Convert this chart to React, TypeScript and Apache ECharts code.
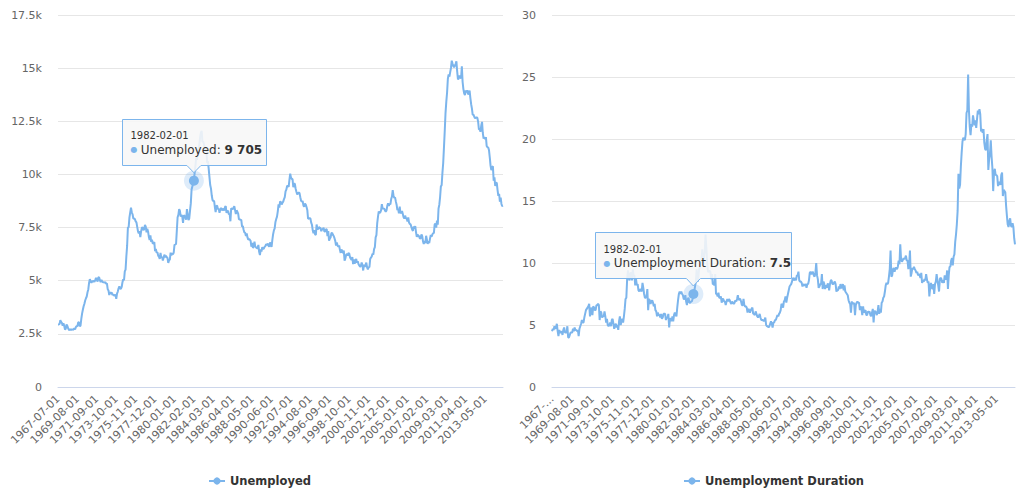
import React, { useEffect, useRef } from "react";
import * as echarts from "echarts";

const START_YEAR = 1967;
const START_MONTH = 7;
const MONTH_COUNT = 574;
const HIGHLIGHT_DATE = "1982-02-01";
const SERIES_NAMES = ["Unemployed", "Unemployment Duration"];
const UNEMPLOYED_TICKS = [0, 2500, 5000, 7500, 10000, 12500, 15000, 17500];
const DURATION_TICKS = [0, 5, 10, 15, 20, 25, 30];

const dates: string[] = [];
for (let i = 0; i < MONTH_COUNT; i++) {
  const m = START_MONTH - 1 + i;
  const y = START_YEAR + Math.floor(m / 12);
  const mm = (m % 12) + 1;
  dates.push(`${y}-${String(mm).padStart(2, "0")}-01`);
}

// thousands, monthly from 1967-07
const unemployed = [
  2944, 2945, 2958, 3143, 3066, 3018,
  2878, 3001, 2877, 2709, 2740, 2938, 2883, 2768, 2686, 2689, 2715, 2685,
  2718, 2692, 2712, 2758, 2713, 2816, 2868, 2856, 3040, 3049, 2856, 2884,
  3201, 3453, 3635, 3797, 3919, 4071, 4175, 4256, 4456, 4591, 4898, 5076,
  4986, 4903, 4987, 4959, 4996, 4949, 5035, 5134, 5042, 4954, 5161, 5154,
  5019, 4928, 5038, 4959, 4922, 4923, 4913, 4939, 4849, 4875, 4602, 4543,
  4326, 4452, 4394, 4459, 4329, 4363, 4305, 4305, 4350, 4144, 4396, 4489,
  4644, 4731, 4634, 4618, 4705, 4927, 5063, 5022, 5437, 5523, 6140, 6636,
  7501, 7520, 7978, 8210, 8433, 8220, 8127, 7928, 7923, 7897, 7794, 7744,
  7534, 7326, 7230, 7330, 7053, 7322, 7490, 7518, 7380, 7430, 7620, 7545,
  7280, 7443, 7307, 7059, 6911, 7134, 6829, 6925, 6751, 6763, 6815, 6386,
  6489, 6318, 6337, 6180, 6127, 6028, 6309, 6080, 6125, 5947, 6077, 6228,
  6109, 6173, 6109, 6069, 5840, 5959, 5996, 6320, 6190, 6296, 6238, 6325,
  6683, 6702, 6729, 7358, 7984, 8098, 8363, 8281, 8021, 8088, 8023, 7718,
  8071, 8051, 7982, 7869, 8366, 8131, 7848, 7927, 8299, 8637, 9290, 9437,
  9586, 9705, 10096, 10426, 10793, 10690, 11006, 11066, 11421, 11754, 11963, 12052,
  11534, 11545, 11408, 11268, 11154, 11246, 10548, 10623, 10282, 9887, 9499, 9331,
  9008, 8791, 8746, 8762, 8456, 8226, 8537, 8519, 8367, 8381, 8198, 8358,
  8423, 8321, 8339, 8395, 8302, 8460, 8513, 8196, 8248, 8298, 8128, 8138,
  7795, 8402, 8383, 8364, 8439, 8508, 8319, 8135, 8310, 8243, 8159, 7883,
  7892, 7865, 7862, 7542, 7574, 7398, 7268, 7261, 7102, 7227, 7035, 6936,
  6953, 6929, 6876, 6601, 6779, 6546, 6605, 6843, 6604, 6568, 6537, 6518,
  6682, 6359, 6205, 6468, 6375, 6577, 6495, 6511, 6590, 6630, 6725, 6667,
  6752, 6651, 6598, 6797, 6742, 6590, 6922, 7188, 7368, 7459, 7764, 7901,
  8015, 8265, 8586, 8439, 8736, 8692, 8586, 8666, 8722, 8842, 8931, 9198,
  9283, 9454, 9460, 9415, 9744, 10040, 9850, 9787, 9781, 9398, 9565, 9557,
  9325, 9183, 9056, 9110, 9149, 9121, 8930, 8763, 8714, 8750, 8542, 8477,
  8630, 8583, 8470, 8331, 7915, 7927, 7946, 7933, 7734, 7632, 7375, 7230,
  7375, 7187, 7153, 7645, 7430, 7427, 7527, 7484, 7478, 7328, 7426, 7423,
  7491, 7313, 7318, 7415, 7423, 7095, 7337, 6882, 6979, 7031, 7236, 7253,
  7158, 7102, 7000, 6873, 6655, 6799, 6655, 6608, 6656, 6454, 6308, 6476,
  6368, 6306, 6422, 5941, 6047, 6212, 6259, 6179, 6300, 6280, 6100, 6032,
  5976, 6111, 5783, 6004, 5796, 5951, 6025, 5838, 5915, 5778, 5716, 5653,
  5708, 5858, 5733, 5481, 5758, 5651, 5747, 5853, 5625, 5534, 5639, 5634,
  6023, 6089, 6141, 6271, 6226, 6484, 6583, 7042, 7142, 7694, 8003, 8258,
  8182, 8215, 8304, 8599, 8399, 8393, 8390, 8304, 8251, 8307, 8520, 8640,
  8520, 8618, 8588, 8842, 8957, 9266, 9011, 8896, 8921, 8732, 8576, 8317,
  8370, 8167, 8491, 8170, 8212, 8286, 8136, 7990, 7927, 8061, 7932, 7934,
  7784, 7980, 7737, 7672, 7651, 7524, 7406, 7345, 7553, 7453, 7566, 7279,
  7064, 7184, 7072, 7120, 6980, 7001, 7175, 7091, 6847, 6727, 6872, 6762,
  7116, 6927, 6731, 6850, 6766, 6979, 7149, 7067, 7170, 7237, 7240, 7645,
  7685, 7497, 7822, 7637, 8395, 8575, 8937, 9438, 9494, 10074, 10538, 11286,
  12058, 12898, 13426, 13853, 14499, 14707, 14601, 14814, 15009, 15352, 15219, 15098,
  15046, 15113, 15202, 15325, 14849, 14474, 14512, 14648, 14579, 14516, 15081, 14348,
  14013, 13820, 13737, 13957, 13855, 13962, 13763, 13818, 13948, 13594, 13302, 13093,
  12797, 12813, 12713, 12646, 12660, 12692, 12656, 12471, 12115, 12124, 12005, 12298,
  12471, 11950, 11689, 11760, 11654, 11751, 11335, 11279, 11270, 11136, 10787, 10404,
  10202, 10349, 10380, 9702, 9859, 9460, 9608, 9599, 9262, 8990, 9090, 8717,
  8903, 8610, 8504, 8526,
];

// median duration, weeks, monthly from 1967-07
const duration = [
  4.5, 4.7, 4.6, 4.9, 4.7, 4.8,
  5.1, 4.5, 4.1, 4.6, 4.4, 4.4, 4.5, 4.2, 4.6, 4.8, 4.4, 4.4,
  4.4, 4.9, 4.0, 4.0, 4.2, 4.4, 4.4, 4.4, 4.7, 4.5, 4.8, 4.6,
  4.6, 4.5, 4.6, 4.1, 4.7, 4.9, 5.1, 5.4, 5.2, 5.2, 5.6, 5.9,
  6.2, 6.3, 6.4, 6.5, 6.7, 5.7, 6.2, 6.4, 5.8, 6.5, 6.4, 6.2,
  6.2, 6.6, 6.6, 6.7, 6.6, 5.4, 6.1, 6.0, 5.6, 5.7, 5.7, 6.1,
  5.7, 5.2, 5.5, 5.0, 4.9, 5.0, 5.2, 4.9, 5.4, 5.5, 5.1, 4.7,
  5.0, 5.1, 4.8, 5.0, 4.6, 5.3, 5.7, 5.0, 5.3, 5.5, 5.2, 5.7,
  6.3, 7.1, 7.2, 8.7, 9.4, 8.8, 8.6, 9.2, 9.2, 8.6, 9.5, 9.0,
  9.0, 8.2, 8.7, 8.2, 8.3, 7.8, 7.7, 7.9, 7.8, 7.7, 8.4, 8.0,
  7.5, 7.2, 7.2, 7.3, 7.9, 6.2, 7.1, 7.0, 6.7, 6.9, 7.0, 6.8,
  6.5, 6.7, 6.2, 6.1, 5.7, 6.0, 5.8, 5.8, 5.6, 5.9, 5.5, 5.6,
  5.9, 5.9, 5.9, 5.4, 5.6, 5.6, 5.9, 4.8, 5.5, 5.5, 5.3, 5.7,
  5.3, 5.8, 6.0, 5.8, 5.7, 6.4, 7.0, 7.5, 7.7, 7.5, 7.7, 7.5,
  7.4, 7.1, 7.1, 7.4, 6.9, 6.6, 7.1, 7.2, 6.8, 6.8, 6.9, 6.9,
  7.1, 7.5, 7.7, 8.1, 8.5, 9.5, 8.5, 8.7, 9.5, 9.7, 10.0, 10.2,
  11.1, 9.8, 10.4, 10.9, 12.3, 11.3, 10.1, 9.3, 9.3, 9.4, 9.3, 8.7,
  9.1, 8.3, 8.3, 8.2, 9.1, 7.5, 7.5, 7.3, 7.6, 7.2, 7.2, 7.3,
  6.8, 7.1, 7.1, 6.9, 6.9, 6.6, 6.9, 7.1, 6.9, 7.1, 7.0, 6.8,
  6.7, 6.9, 6.8, 6.7, 6.8, 7.0, 6.9, 7.1, 7.4, 7.0, 7.1, 7.1,
  6.9, 6.6, 6.6, 7.1, 6.6, 6.5, 6.5, 6.4, 6.0, 6.3, 6.2, 6.0,
  6.2, 6.3, 6.4, 5.9, 5.9, 5.8, 6.1, 5.9, 5.7, 5.6, 5.7, 5.9,
  5.6, 5.4, 5.4, 5.4, 5.3, 5.4, 5.6, 5.0, 4.9, 4.9, 4.8, 4.9,
  5.1, 5.3, 5.1, 4.8, 5.2, 5.2, 5.4, 5.4, 5.6, 5.8, 5.7, 5.9,
  6.0, 6.2, 6.7, 6.6, 6.4, 6.9, 7.0, 7.3, 6.8, 7.2, 7.5, 7.8,
  8.1, 8.2, 8.3, 8.5, 8.8, 8.7, 8.6, 8.8, 8.6, 9.0, 9.0, 9.3,
  8.6, 8.5, 8.5, 8.4, 8.1, 8.3, 8.2, 8.2, 8.3, 8.0, 8.3, 8.3,
  8.6, 9.2, 9.3, 9.1, 9.2, 9.3, 9.0, 8.9, 9.2, 10.0, 9.0, 8.7,
  8.0, 8.1, 8.3, 8.3, 9.1, 7.9, 8.5, 8.3, 7.9, 8.2, 8.0, 8.3,
  8.3, 7.8, 8.3, 8.6, 8.6, 8.3, 8.3, 8.4, 8.5, 8.3, 7.7, 7.8,
  7.8, 8.1, 7.9, 8.3, 8.0, 8.0, 8.3, 7.8, 8.2, 7.7, 7.6, 7.5,
  7.4, 7.0, 6.8, 6.7, 6.0, 6.9, 6.7, 6.8, 6.7, 5.8, 6.6, 6.8,
  6.9, 6.8, 6.8, 6.2, 6.5, 6.3, 5.8, 6.5, 6.0, 6.1, 6.2, 5.8,
  5.8, 6.1, 6.0, 6.1, 5.8, 5.7, 6.0, 6.3, 5.2, 6.1, 6.1, 6.0,
  5.8, 6.1, 6.6, 5.9, 6.3, 6.0, 6.8, 6.9, 7.2, 7.3, 7.7, 8.2,
  8.4, 8.3, 8.4, 8.9, 9.5, 11.0, 8.9, 9.0, 9.5, 9.6, 9.3, 9.6,
  9.6, 9.5, 9.7, 10.2, 9.9, 11.5, 10.3, 10.1, 10.2, 10.4, 10.3, 10.4,
  10.6, 10.2, 10.2, 9.5, 9.9, 11.0, 8.9, 9.2, 9.6, 9.5, 9.7, 9.5,
  9.4, 9.2, 9.3, 9.0, 9.1, 9.0, 8.8, 9.2, 8.4, 8.6, 8.5, 8.7,
  8.6, 9.1, 8.7, 8.4, 8.5, 7.3, 8.0, 8.4, 8.0, 7.9, 8.3, 7.5,
  8.3, 8.5, 9.1, 8.6, 8.2, 7.7, 8.7, 8.8, 8.7, 8.4, 8.6, 8.4,
  9.0, 8.7, 8.7, 9.4, 7.9, 9.0, 9.7, 9.7, 10.2, 10.4, 9.8, 10.5,
  10.7, 11.7, 12.3, 13.1, 14.2, 17.2, 16.0, 16.3, 17.8, 18.9, 19.8, 20.1,
  20.0, 19.9, 20.4, 22.1, 22.3, 25.2, 22.3, 21.0, 20.3, 21.2, 21.0, 21.9,
  21.5, 21.1, 21.5, 20.9, 21.6, 22.3, 22.0, 22.4, 22.0, 20.6, 20.8, 20.5,
  20.8, 19.7, 19.2, 19.1, 19.9, 20.4, 17.5, 18.4, 18.8, 19.9, 18.6, 17.7,
  15.8, 17.2, 17.6, 17.1, 17.1, 17.0, 16.2, 16.5, 16.5, 16.3, 17.1, 17.3,
  15.4, 15.9, 15.8, 15.7, 14.6, 13.8, 13.1, 12.9, 13.4, 13.6, 13.0, 12.9,
  13.2, 12.9, 12.0, 11.5,
];

const COLOR = "#7cb5ec";
const FONT = "'DejaVu Sans', sans-serif";

function fmtThousands(v: number): string {
  const s = String(Math.round(v));
  return s.replace(/\B(?=(\d{3})+(?!\d))/g, " ");
}

function tooltipGraphic(
  px: number,
  py: number,
  w: number,
  name: string,
  valText: string
): any[] {
  const left = Math.round(px - w / 2) + 0.5;
  const right = left + w;
  const top = Math.round(py - 62) + 0.5;
  const bottom = Math.round(py - 16) + 0.5;
  return [
    {
      type: "polygon",
      z: 102,
      shape: {
        points: [
          [left, top],
          [right, top],
          [right, bottom],
          [px + 7, bottom],
          [px, py - 8],
          [px - 7, bottom],
          [left, bottom],
        ],
      },
      style: {
        fill: "rgba(247,247,247,0.88)",
        stroke: COLOR,
        lineWidth: 1,
      },
    },
    {
      type: "text",
      z: 103,
      x: left + 8,
      y: py - 45,
      style: {
        text: HIGHLIGHT_DATE,
        fontSize: 10,
        fontFamily: FONT,
        fill: "#333333",
        verticalAlign: "middle",
      },
    },
    {
      type: "text",
      z: 103,
      x: left + 8,
      y: py - 31,
      style: {
        text: `{b|●} {n|${name}: }{v|${valText}}`,
        verticalAlign: "middle",
        rich: {
          b: { fontSize: 8, fill: COLOR, fontFamily: FONT },
          n: { fontSize: 12, fill: "#333333", fontFamily: FONT },
          v: { fontSize: 12, fill: "#333333", fontWeight: "bold", fontFamily: FONT },
        },
      },
    },
  ];
}

function hoverMarks(value: number) {
  return {
    silent: true,
    animation: false,
    label: { show: false },
    data: [
      {
        coord: [HIGHLIGHT_DATE, value],
        symbol: "circle",
        symbolSize: 20,
        itemStyle: { color: "rgba(124,181,236,0.25)" },
      },
      {
        coord: [HIGHLIGHT_DATE, value],
        symbol: "circle",
        symbolSize: 10,
        itemStyle: { color: COLOR },
      },
    ],
  };
}

export default function App() {
  const ref = useRef<HTMLDivElement>(null);

  useEffect(() => {
    if (!ref.current) return;
    const chart = echarts.init(ref.current, undefined, { renderer: "svg" });

    const xAxisBase = (gridIndex: number) => ({
      type: "category",
      gridIndex,
      data: dates,
      boundaryGap: false,
      axisLine: { lineStyle: { color: "#ccd6eb" } },
      axisTick: { show: false },
      axisLabel: {
        interval: 24,
        rotate: 45,
        color: "#666666",
        fontSize: 11,
        fontFamily: FONT,
        margin: 10,
        formatter:
          gridIndex === 1
            ? (v: string, i: number) => (i === 0 ? v.slice(0, 5) + "…" : v)
            : (v: string) => v,
      },
      splitLine: { show: false },
    });

    const yAxisBase = (gridIndex: number, ticks: number[], fmt: (v: number) => string) => ({
      type: "value",
      gridIndex,
      min: ticks[0],
      max: ticks[ticks.length - 1],
      interval: ticks[1] - ticks[0],
      axisLine: { show: false },
      axisTick: { show: false },
      axisLabel: { color: "#666666", fontSize: 11, fontFamily: FONT, margin: 16, formatter: fmt },
      splitLine: { lineStyle: { color: "#e6e6e6" } },
    });

    const legendText = { color: "#333333", fontSize: 11.5, fontWeight: "bold", fontFamily: FONT };
    const idx = dates.indexOf(HIGHLIGHT_DATE);

    chart.setOption({
      animation: false,
      backgroundColor: "#ffffff",
      grid: [
        { left: 58, right: 520, top: 15, bottom: 106 },
        { left: 552, right: 8, top: 15, bottom: 106 },
      ],
      xAxis: [xAxisBase(0), xAxisBase(1)],
      yAxis: [
        yAxisBase(0, UNEMPLOYED_TICKS, (v: number) => (v === 0 ? "0" : `${v / 1000}k`)),
        yAxisBase(1, DURATION_TICKS, (v: number) => String(v)),
      ],
      legend: [
        {
          data: [SERIES_NAMES[0]],
          left: 203,
          top: 470,
          itemWidth: 16,
          itemHeight: 9,
          textStyle: legendText,
        },
        {
          data: [SERIES_NAMES[1]],
          left: 678,
          top: 470,
          itemWidth: 16,
          itemHeight: 9,
          textStyle: legendText,
        },
      ],
      series: [
        {
          name: SERIES_NAMES[0],
          type: "line",
          xAxisIndex: 0,
          yAxisIndex: 0,
          data: unemployed,
          showSymbol: false,
          symbol: "circle",
          lineStyle: { color: COLOR, width: 2 },
          itemStyle: { color: COLOR },
          markPoint: hoverMarks(unemployed[idx]),
        },
        {
          name: SERIES_NAMES[1],
          type: "line",
          xAxisIndex: 1,
          yAxisIndex: 1,
          data: duration,
          showSymbol: false,
          symbol: "circle",
          lineStyle: { color: COLOR, width: 2 },
          itemStyle: { color: COLOR },
          markPoint: hoverMarks(duration[idx]),
        },
      ],
    });

    const p1 = chart.convertToPixel({ gridIndex: 0 }, [idx, unemployed[idx]]) as number[];
    const p2 = chart.convertToPixel({ gridIndex: 1 }, [idx, duration[idx]]) as number[];
    chart.setOption({
      graphic: [
        ...tooltipGraphic(p1[0], p1[1], 144, SERIES_NAMES[0], fmtThousands(unemployed[idx])),
        ...tooltipGraphic(p2[0], p2[1], 196, SERIES_NAMES[1], String(duration[idx])),
      ],
    });

    return () => chart.dispose();
  }, []);

  return (
    <div
      ref={ref}
      style={{ position: "absolute", left: 0, top: 0, width: 1023, height: 493, background: "#fff" }}
    />
  );
}
